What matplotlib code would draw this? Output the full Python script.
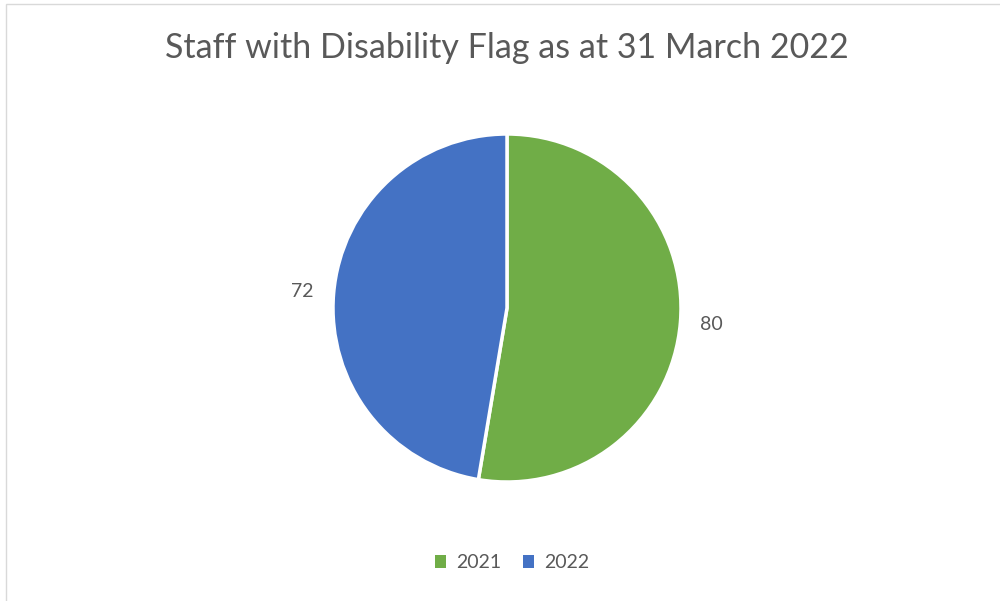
import matplotlib
matplotlib.use("Agg")
import matplotlib.pyplot as plt
from matplotlib.patches import Patch, Rectangle

categories = ["2021", "2022"]
values = [80, 72]
colors = ["#70AD47", "#4472C4"]
title = "Staff with Disability Flag as at 31 March 2022"

plt.rcParams['font.family'] = ['Lato', 'DejaVu Sans']
text_color = "#595959"

fig = plt.figure(figsize=(10, 6.01), dpi=100)
W, H = 1000, 601
cx, cy, r = 507, 308, 174
ax = fig.add_axes([(cx - r) / W, (H - cy - r) / H, 2 * r / W, 2 * r / H])
wedges, texts = ax.pie(values, colors=colors, startangle=90, counterclock=False,
                       labels=[str(v) for v in values], labeldistance=1.18,
                       wedgeprops=dict(edgecolor="white", linewidth=2.5),
                       textprops=dict(color=text_color, fontsize=14))
for t in texts:
    t.set_ha("center")
    t.set_va("center")
ax.set_aspect("equal")
ax.set_xlim(-1, 1)
ax.set_ylim(-1, 1)
ax.axis("off")

fig.text(0.507, 1 - 48 / H, title, ha="center", va="center", fontsize=24.5, color=text_color)

handles = [Patch(facecolor=c, edgecolor="none") for c in colors]
fig.legend(handles, categories, loc="center", bbox_to_anchor=(0.512, 1 - 563 / H),
           ncol=2, frameon=False, fontsize=14, labelcolor=text_color,
           handlelength=0.6, handleheight=0.6, handletextpad=0.5, columnspacing=1.1)

# outer border (top and left visible)
fig.add_artist(Rectangle((5.5 / W, -0.1), 1.2, 1.1 - 3.5 / H, transform=fig.transFigure,
                         fill=False, edgecolor="#D9D9D9", linewidth=1))

fig.savefig("out.png", dpi=100, facecolor="white")
